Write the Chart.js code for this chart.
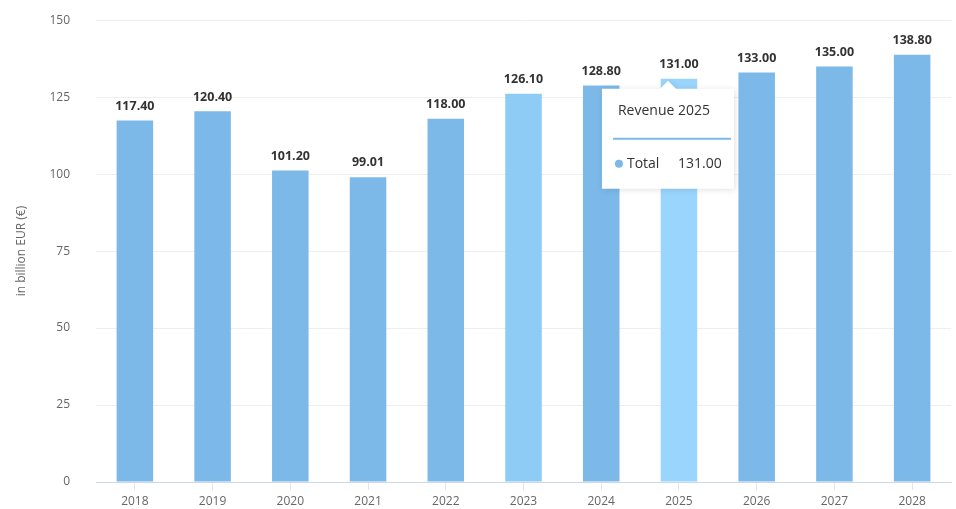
<!DOCTYPE html>
<html>
<head>
<meta charset="utf-8">
<script src="https://cdn.jsdelivr.net/npm/chart.js@4/dist/chart.umd.min.js"></script>
<style>
  body { margin: 0; background: #fff; }
  canvas { display: block; }
</style>
</head>
<body>
<canvas id="revenue" width="956" height="509"></canvas>
<script>
const years = ['2018', '2019', '2020', '2021', '2022', '2023', '2024', '2025', '2026', '2027', '2028'];
const revenue = [117.40, 120.40, 101.20, 99.01, 118.00, 126.10, 128.80, 131.00, 133.00, 135.00, 138.80];
const yTicks = [0, 25, 50, 75, 100, 125, 150];
const tooltipIndex = 7;

const FONT = '"Open Sans", "DejaVu Sans", sans-serif';

const barColors = years.map((y, i) => {
    if (i === 5) return '#8ecbf5';   // 2023 lighter
    if (i === 7) return '#9ad5fd';   // hovered 2025
    return '#7cb9e8';
});

// values above each bar
const valueLabels = {
    id: 'valueLabels',
    afterDatasetsDraw(chart) {
        const ctx = chart.ctx;
        const meta = chart.getDatasetMeta(0);
        ctx.save();
        ctx.font = 'bold 12.5px ' + FONT;
        ctx.fillStyle = '#333333';
        ctx.textAlign = 'center';
        ctx.textBaseline = 'bottom';
        meta.data.forEach((bar, i) => {
            ctx.fillText(revenue[i].toFixed(2), bar.x, bar.y - 8);
        });
        ctx.restore();
    }
};

// fixed tooltip box like the reference
const fixedTooltip = {
    id: 'fixedTooltip',
    afterDraw(chart) {
        const ctx = chart.ctx;
        const bar = chart.getDatasetMeta(0).data[tooltipIndex];
        const cx = bar.x - 11;
        const tipY = bar.y + 2;
        const w = 132, h = 100;
        const left = cx - w / 2, top = tipY + 8;

        ctx.save();
        ctx.shadowColor = 'rgba(0,0,0,0.12)';
        ctx.shadowBlur = 6;
        ctx.shadowOffsetX = 1;
        ctx.shadowOffsetY = 1;
        ctx.fillStyle = '#ffffff';
        ctx.beginPath();
        ctx.moveTo(left, top);
        ctx.lineTo(cx - 8, top);
        ctx.lineTo(cx, tipY);
        ctx.lineTo(cx + 8, top);
        ctx.lineTo(left + w, top);
        ctx.lineTo(left + w, top + h);
        ctx.lineTo(left, top + h);
        ctx.closePath();
        ctx.fill();
        ctx.restore();

        ctx.save();
        ctx.fillStyle = '#333333';
        ctx.font = '14px ' + FONT;
        ctx.textBaseline = 'middle';
        ctx.textAlign = 'left';
        ctx.fillText('Revenue ' + years[tooltipIndex], left + 16, top + 22);

        ctx.strokeStyle = '#7cb9e8';
        ctx.lineWidth = 2;
        ctx.beginPath();
        ctx.moveTo(left + 11, top + 50);
        ctx.lineTo(left + w - 3, top + 50);
        ctx.stroke();

        ctx.fillStyle = '#7cb9e8';
        ctx.beginPath();
        ctx.arc(left + 17, top + 75, 4, 0, Math.PI * 2);
        ctx.fill();

        ctx.fillStyle = '#333333';
        ctx.fillText('Total', left + 25, top + 75);
        ctx.fillText(revenue[tooltipIndex].toFixed(2), left + 76, top + 75);
        ctx.restore();
    }
};

new Chart(document.querySelector('#revenue'), {
    type: 'bar',
    data: {
        labels: years,
        datasets: [{
            label: 'Total',
            data: revenue,
            backgroundColor: barColors,
            borderWidth: 0,
            barPercentage: 0.47,
            categoryPercentage: 1.0,
        }]
    },
    options: {
        responsive: false,
        animation: false,
        events: [],
        layout: {
            padding: { top: 14, right: 5, bottom: 0, left: 0 }
        },
        plugins: {
            legend: { display: false },
            tooltip: { enabled: false },
        },
        scales: {
            x: {
                grid: {
                    offset: false,
                    drawOnChartArea: false,
                    tickLength: 8,
                    color: '#e0e6f0',
                },
                border: { color: '#ccd6eb', width: 1 },
                ticks: {
                    color: '#666666',
                    font: { family: FONT, size: 12 },
                    padding: 4,
                },
                afterFit(scale) { scale.height = 27; },
            },
            y: {
                min: 0,
                max: 150,
                afterBuildTicks(scale) {
                    scale.ticks = yTicks.map(v => ({ value: v }));
                },
                grid: {
                    color: '#eeeeee',
                    drawTicks: true,
                    tickLength: 13,
                    tickColor: 'rgba(0,0,0,0)',
                },
                border: { display: false },
                ticks: {
                    color: '#666666',
                    font: { family: FONT, size: 12 },
                    padding: 13,
                },
                title: {
                    display: true,
                    text: 'in billion EUR (€)',
                    color: '#666666',
                    font: { family: FONT, size: 12 },
                    padding: { top: 14, bottom: 0 },
                },
                afterFit(scale) { scale.width = 96; },
            }
        }
    },
    plugins: [valueLabels, fixedTooltip]
});
</script>
</body>
</html>
